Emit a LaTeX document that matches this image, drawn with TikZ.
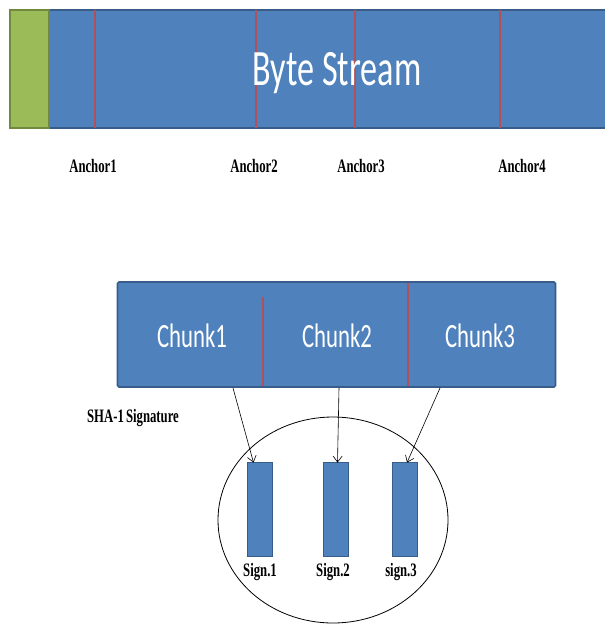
\documentclass[tikz,border=0pt]{standalone}
\usepackage{fontspec}
\setmainfont{Liberation Serif}
\newfontfamily\slidefont{Carlito}
\usetikzlibrary{calc,arrows.meta,shapes.geometric}

\definecolor{barblue}{HTML}{4F81BD}
\definecolor{baredge}{HTML}{385D8A}
\definecolor{cutred}{HTML}{B0505A}
\definecolor{startgreen}{HTML}{9BBB59}
\definecolor{greenedge}{HTML}{71893F}

% horizontally condensed text, as on the slide
\newcommand{\narrowtext}[1]{\scalebox{0.67}[1]{#1}}

\begin{document}
\begin{tikzpicture}[x=1pt,y=-1pt,
  bar/.style={fill=barblue, inner sep=0pt, outer sep=0pt, anchor=north west},
  cut/.style={draw=cutred, line width=1.6},
  slidetext/.style={text=white, inner sep=0pt, anchor=base},
  tag/.style={inner sep=0pt, anchor=base, font=\bfseries\fontsize{19}{19}\selectfont},
  sigbox/.style={fill=barblue, draw=baredge, line width=0.8, inner sep=0pt,
    minimum width=25, minimum height=94},
  link/.style={draw=black, line width=0.6, -{Straight Barb[length=6pt,width=9pt]}}]

\fill[white] (0,0) rectangle (605,626);
\useasboundingbox (0,0) rectangle (605,626);

% ---- byte stream ----
\node[bar, minimum width=556, minimum height=118] (stream) at (49,10) {};
\draw[baredge, line width=1.8] (stream.north west) -- (stream.north east);
\draw[baredge, line width=1.8] (stream.south west) -- (stream.south east);
\node[bar, fill=startgreen, draw=greenedge, line width=1.2,
  minimum width=39, minimum height=118] (start) at (10,10) {};

\draw[cut] (95,10) -- (95,128);
\draw[cut] (256,10) -- (256,128);
\draw[cut] (355,10) -- (355,128);
\draw[cut] (500,10) -- (500,128);

\node[slidetext, font=\slidefont\fontsize{51}{51}\selectfont] (title) at (337,85)
  {\narrowtext{Byte Stream}};

\node[tag] (anc1) at (93,172) {\narrowtext{Anchor1}};
\node[tag] (anc2) at (254,172) {\narrowtext{Anchor2}};
\node[tag] (anc3) at (361,172) {\narrowtext{Anchor3}};
\node[tag] (anc4) at (522,172) {\narrowtext{Anchor4}};

% ---- chunks ----
\node[bar, draw=baredge, line width=1.6, rounded corners=1.5,
  minimum width=438, minimum height=105] (chunks) at (117.5,282) {};
\draw[cut] (263,297) -- (263,386);
\draw[cut] (408,283) -- (408,386);

\node[slidetext, font=\slidefont\fontsize{34}{34}\selectfont] (ch1) at (192,347) {\narrowtext{Chunk1}};
\node[slidetext, font=\slidefont\fontsize{34}{34}\selectfont] (ch2) at (337,347) {\narrowtext{Chunk2}};
\node[slidetext, font=\slidefont\fontsize{34}{34}\selectfont] (ch3) at (480,347) {\narrowtext{Chunk3}};

\node[tag] (sha) at (133,422) {\narrowtext{SHA-1\,Signature}};

% ---- signatures ----
\node[ellipse, draw=black, line width=0.8, inner sep=0pt,
  minimum width=230, minimum height=206] (sigset) at (333,520) {};

\node[sigbox] (s1) at (259.5,509) {};
\node[sigbox] (s2) at (335.5,509) {};
\node[sigbox] (s3) at (405,509) {};

\node[tag] (l1) at (260,576) {\narrowtext{Sign.1}};
\node[tag] (l2) at (333,576) {\narrowtext{Sign.2}};
\node[tag] (l3) at (401,576) {\narrowtext{sign.3}};

\coordinate (c1) at (233,388);
\coordinate (c2) at (339,388);
\coordinate (c3) at (440,388);

\draw[link] (c1) -- ($(s1.north)+(-6,1)$);
\draw[link] (c2) -- ($(s2.north)+(2,1)$);
\draw[link] (c3) -- ($(s3.north)+(2,1)$);

\end{tikzpicture}
\end{document}
